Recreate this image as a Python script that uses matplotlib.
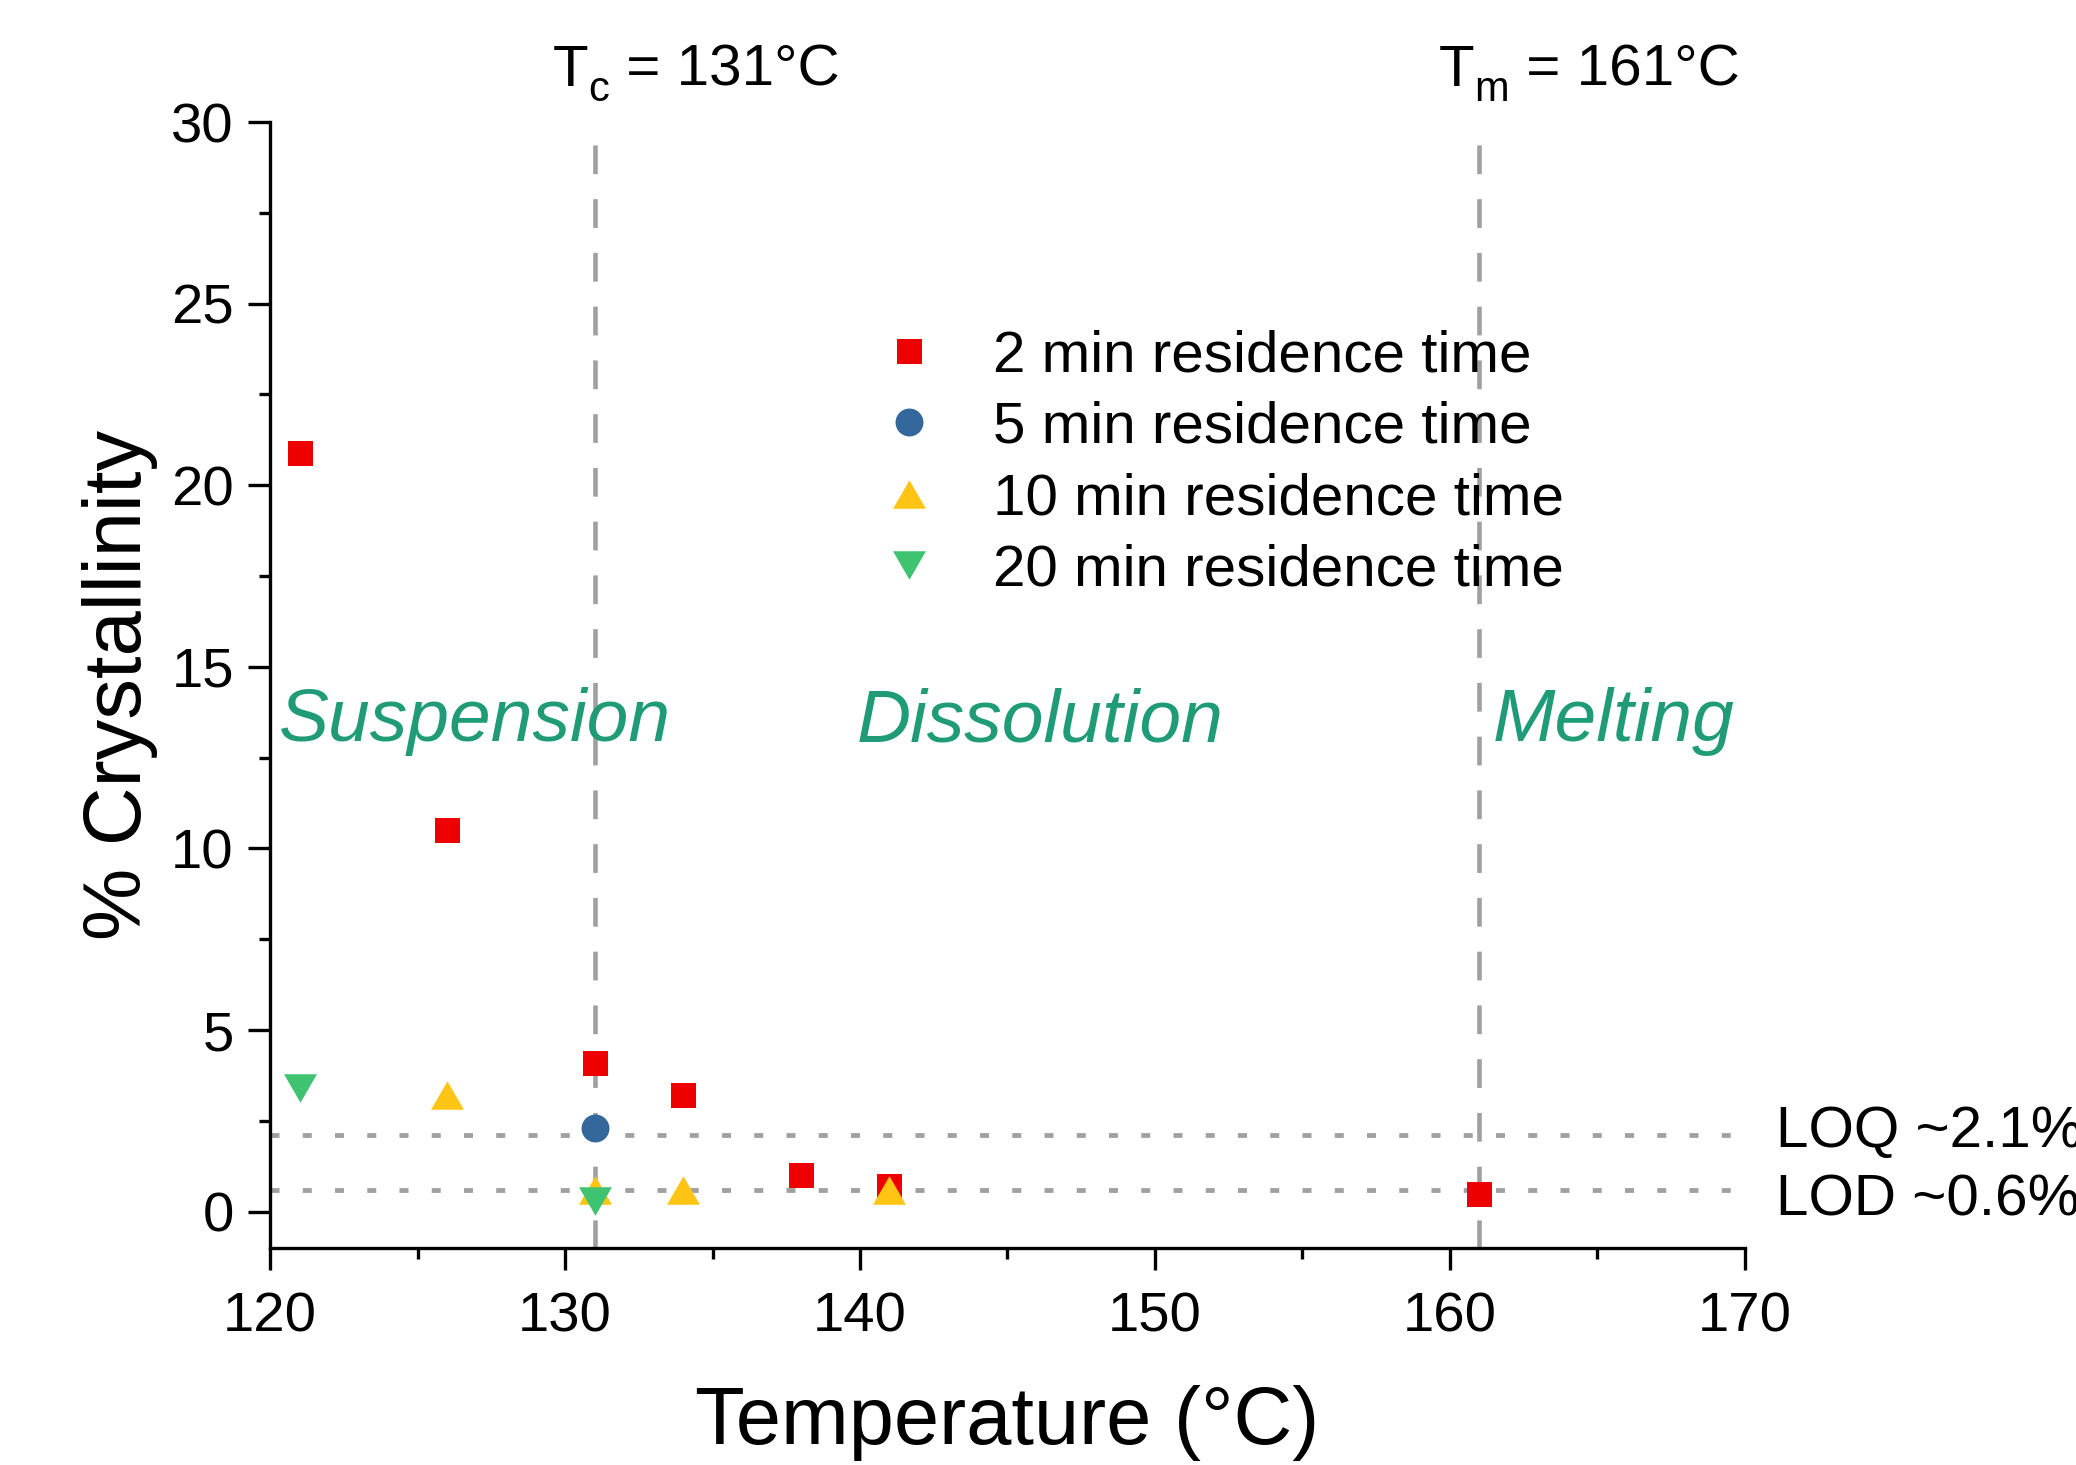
import matplotlib
matplotlib.use("Agg")
import matplotlib.pyplot as plt
from matplotlib.ticker import MultipleLocator

plt.rcParams['font.family'] = ['Liberation Sans', 'DejaVu Sans']
plt.rcParams['lines.scale_dashes'] = False

# ---- data ----
t2_x = [121, 126, 131, 134, 138, 141, 161]
t2_y = [20.9, 10.5, 4.1, 3.2, 1.0, 0.7, 0.5]
t5_x = [131]
t5_y = [2.3]
t10_x = [126, 131, 134, 141]
t10_y = [3.2, 0.6, 0.6, 0.6]
t20_x = [121, 131]
t20_y = [3.4, 0.3]
series_labels = ['2 min residence time', '5 min residence time',
                 '10 min residence time', '20 min residence time']
tc_value = 131
tm_value = 161
loq_value = 2.1
lod_value = 0.6
regions = ['Suspension', 'Dissolution', 'Melting']
region_x = [120.3, 139.9, 161.45]

# ---- figure ----
DPI = 300
W, H = 2076, 1465
fig = plt.figure(figsize=(W / DPI, H / DPI), dpi=DPI)
ax = fig.add_axes([270 / W, 1 - 1248 / H, (1745 - 270) / W, (1248 - 122) / H])

red = '#EE0000'
blue = '#34679B'
yellow = '#FFC414'
green = '#3EC470'
gray = '#A0A0A0'
txtgreen = '#1F9B78'

up_tri = [(-1, -0.866), (1, -0.866), (0, 0.866)]
down_tri = [(-1, 0.866), (1, 0.866), (0, -0.866)]

# reference lines
for xv in (tc_value, tm_value):
    ax.plot([xv, xv], [30, -1], color=gray, lw=1.1,
            linestyle=(7.4, (6.9, 6.0)), solid_capstyle='butt',
            dash_capstyle='butt', zorder=1)
for yv in (loq_value, lod_value):
    ax.plot([120, 170], [yv, yv], color=gray, lw=1.15,
            linestyle=(0, (2.16, 5.58)), dash_capstyle='butt', zorder=1)

ax.plot(t2_x, t2_y, linestyle='none', marker='s', ms=6.0, color=red,
        mec='none', label=series_labels[0], zorder=3)
ax.plot(t5_x, t5_y, linestyle='none', marker='o', ms=6.7, color=blue,
        mec='none', label=series_labels[1], zorder=3)
ax.plot(t10_x, t10_y, linestyle='none', marker=up_tri, ms=7.9, color=yellow,
        mec='none', label=series_labels[2], zorder=3)
ax.plot(t20_x, t20_y, linestyle='none', marker=down_tri, ms=7.9, color=green,
        mec='none', label=series_labels[3], zorder=3)

ax.set_xlim(120, 170)
ax.set_ylim(-1, 30)
ax.xaxis.set_major_locator(MultipleLocator(10))
ax.xaxis.set_minor_locator(MultipleLocator(5))
ax.yaxis.set_major_locator(MultipleLocator(5))
ax.yaxis.set_minor_locator(MultipleLocator(2.5))

for s in ('top', 'right'):
    ax.spines[s].set_visible(False)
for s in ('left', 'bottom'):
    ax.spines[s].set_linewidth(0.8)

ax.tick_params(which='major', direction='out', length=5.3, width=0.8)
ax.tick_params(which='minor', direction='out', length=2.6, width=0.8)
ax.tick_params(axis='x', which='major', pad=5.2, labelsize=13.5)
ax.tick_params(axis='y', which='major', pad=3.4, labelsize=13.5)

ax.set_xlabel('Temperature (°C)', fontsize=19.5, labelpad=10)
ax.set_ylabel('% Crystallinity', fontsize=19.5, labelpad=3.2)

# top labels: T with lowered subscript, built piece by piece
fig.canvas.draw()
renderer = fig.canvas.get_renderer()
px2pt = 72.0 / DPI


def sub_label(x, main, sub, rest):
    a = ax.annotate(main, xy=(x, 31.0), xycoords='data', xytext=(0, 0),
                    textcoords='offset points', fontsize=14, ha='left',
                    va='baseline', annotation_clip=False)
    w1 = a.get_window_extent(renderer).width * px2pt
    b = ax.annotate(sub, xy=(x, 31.0), xycoords='data', xytext=(w1, -3.6),
                    textcoords='offset points', fontsize=10, ha='left',
                    va='baseline', annotation_clip=False)
    w2 = b.get_window_extent(renderer).width * px2pt
    ax.annotate(rest, xy=(x, 31.0), xycoords='data',
                xytext=(w1 + w2 + 0.3, 0), textcoords='offset points',
                fontsize=14, ha='left', va='baseline', annotation_clip=False)


sub_label(tc_value - 1.43, 'T', 'c', ' = 131°C')
sub_label(tm_value - 1.38, 'T', 'm', ' = 161°C')

# region labels
for name, xv in zip(regions, region_x):
    ax.text(xv, 12.95, name, fontsize=18, style='italic', color=txtgreen,
            ha='left', va='baseline', zorder=4)

# LOQ / LOD labels
ax.text(171.05, 1.79, 'LOQ ~2.1%', fontsize=14, ha='left', va='baseline',
        clip_on=False)
ax.text(171.05, -0.11, 'LOD ~0.6%', fontsize=14, ha='left', va='baseline',
        clip_on=False)

ax.legend(loc='upper left', bbox_to_anchor=(880 / W, 1 - 329 / H),
          bbox_transform=fig.transFigure, frameon=False, fontsize=14,
          borderpad=0, borderaxespad=0, handlelength=1.0,
          handletextpad=0.94, labelspacing=0.3)

fig.savefig('out.png', dpi=DPI)
